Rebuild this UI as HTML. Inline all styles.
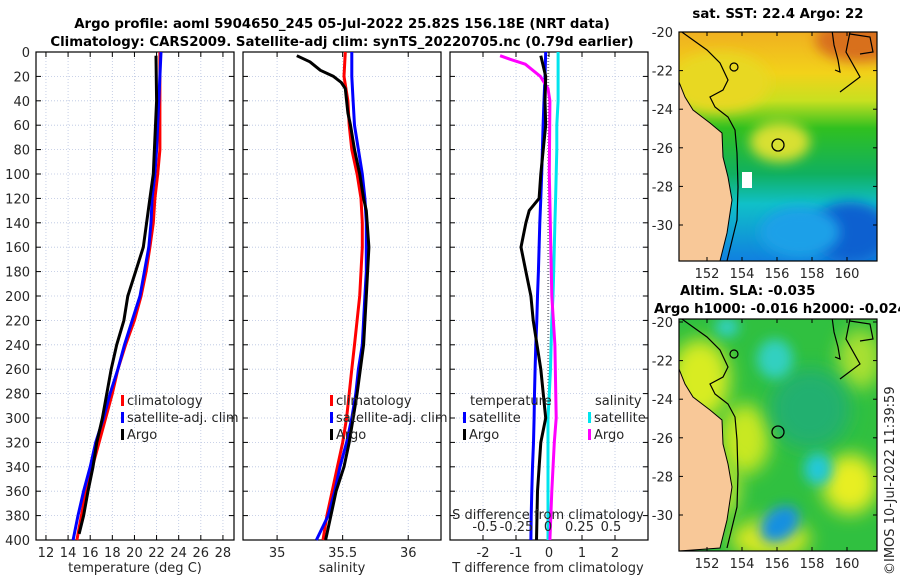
<!DOCTYPE html>
<html><head><meta charset="utf-8"><style>
body{margin:0;background:#fff;}
svg{display:block;font-family:"DejaVu Sans","Liberation Sans",sans-serif;}
.tk{font-size:13px;fill:#262626;}
.tt{font-size:13.3px;font-weight:bold;fill:#000;}
</style></head><body>
<svg id="chart" width="900" height="580" viewBox="0 0 900 580" xmlns="http://www.w3.org/2000/svg">
<defs>
<filter id="bl" x="-100%" y="-100%" width="300%" height="300%"><feGaussianBlur stdDeviation="6"/></filter>
<filter id="bl2" x="-100%" y="-100%" width="300%" height="300%"><feGaussianBlur stdDeviation="9"/></filter>
<clipPath id="m1c"><rect x="679" y="32" width="198" height="229"/></clipPath>
<clipPath id="m2c"><rect x="679" y="319" width="198" height="232"/></clipPath>
<linearGradient id="sstg" x1="0" y1="0" x2="0" y2="1">
<stop offset="0" stop-color="#f0b020"/><stop offset="0.18" stop-color="#f2d21a"/><stop offset="0.3" stop-color="#c8e020"/><stop offset="0.42" stop-color="#30c020"/><stop offset="0.62" stop-color="#10b060"/><stop offset="0.75" stop-color="#10c0c8"/><stop offset="1" stop-color="#1080e0"/></linearGradient>
</defs>
<text class="tt" x="342" y="28" text-anchor="middle">Argo profile: aoml 5904650_245 05-Jul-2022 25.82S 156.18E (NRT data)</text>
<text class="tt" x="342" y="46" text-anchor="middle">Climatology: CARS2009. Satellite-adj clim: synTS_20220705.nc (0.79d earlier)</text>
<g id="panels"></g>
<g id="maps"></g>
<text class="tk" transform="translate(894,575) rotate(-90)">©IMOS 10-Jul-2022 11:39:59</text>
</svg>
<script>
const depthTicks=[0,20,40,60,80,100,120,140,160,180,200,220,240,260,280,300,320,340,360,380,400];
const tempTicks=[12,14,16,18,20,22,24,26,28];
const salTicks=[35,35.5,36];
const salTickLabels=['35','35.5','36'];
const tdTicks=[-2,-1,0,1,2];
const sdTicks=[-0.5,-0.25,0,0.25,0.5];
const sdTickLabels=['-0.5','-0.25','0','0.25','0.5'];
// temperature profiles
const tArgoDepth=[3,40,100,120,140,160,180,200,220,240,260,280,300,320,340,360,380,395];
const tArgo=[21.95,22.0,21.7,21.4,21.1,20.8,20.1,19.4,19.05,18.4,17.9,17.5,17.1,16.6,16.25,15.8,15.4,15.0];
const climDepth=[0,20,40,60,80,100,120,140,160,180,200,220,240,260,280,300,320,340,360,380,400];
const tClim=[22.3,22.3,22.3,22.3,22.3,22.1,21.85,21.7,21.4,21.05,20.6,20.0,19.2,18.5,18.0,17.4,16.8,16.2,15.6,15.2,14.8];
const tSat=[22.4,22.3,22.2,22.1,22.0,21.85,21.6,21.5,21.3,20.9,20.5,19.8,19.1,18.5,17.8,17.2,16.5,16.0,15.4,14.9,14.45];
// salinity profiles
const sArgoDepth=[3,8,15,20,25,30,40,50,60,80,100,120,130,160,200,240,280,320,340,360,380,400];
const sArgo=[35.15,35.25,35.33,35.43,35.49,35.52,35.53,35.54,35.56,35.59,35.63,35.66,35.68,35.70,35.68,35.66,35.61,35.55,35.51,35.45,35.41,35.37];
const sClim=[35.52,35.51,35.54,35.55,35.57,35.61,35.64,35.65,35.65,35.64,35.63,35.61,35.59,35.57,35.55,35.53,35.50,35.46,35.42,35.38,35.35];
const sSat=[35.57,35.57,35.58,35.59,35.62,35.65,35.67,35.68,35.68,35.68,35.67,35.66,35.65,35.62,35.60,35.57,35.53,35.48,35.44,35.39,35.30];
// differences
const tdSat=[-0.1,-0.12,-0.15,-0.18,-0.2,-0.22,-0.25,-0.28,-0.3,-0.32,-0.35,-0.37,-0.4,-0.42,-0.44,-0.45,-0.47,-0.5,-0.52,-0.54,-0.55];
const tdArgoDepth=[3,20,40,60,100,120,130,140,160,180,200,220,260,300,320,360,400];
const tdArgo=[-0.25,-0.1,-0.12,-0.1,-0.25,-0.3,-0.6,-0.7,-0.85,-0.7,-0.55,-0.48,-0.25,-0.1,-0.25,-0.35,-0.38];
const sdSat=[0.08,0.08,0.08,0.07,0.07,0.065,0.06,0.055,0.05,0.045,0.04,0.03,0.025,0.02,0.01,0.0,0.0,0.0,0.0,0.0,0.0];
const sdArgoDepth=[3,6,10,20,30,40,100,200,240,300,320,360,400];
const sdArgo=[-0.38,-0.30,-0.18,-0.06,0.0,0.015,0.01,0.03,0.055,0.065,0.05,0.03,0.015];

const NS='http://www.w3.org/2000/svg';
function mk(tag,attrs,parent){const e=document.createElementNS(NS,tag);for(const k in attrs)e.setAttribute(k,attrs[k]);parent.appendChild(e);return e;}
const Y0=52,Y1=540;
const yS=d=>Y0+(d/400)*(Y1-Y0);
const P=document.getElementById('panels');
function panel(name,x0,x1,dmin,dmax,ticks,labels,showY){
  const g=mk('g',{},P);
  
  
  const xs=v=>x0+(v-dmin)/(dmax-dmin)*(x1-x0);
  depthTicks.forEach(d=>{
    const l=mk('line',{x1:x0,x2:x1,y1:yS(d),y2:yS(d),stroke:'#b8c4e0','stroke-width':0.8,'stroke-dasharray':'1,2'},g);
    
    
    mk('line',{x1:x0,x2:x0+5,y1:yS(d),y2:yS(d),stroke:'#000'},g);
    mk('line',{x1:x1-5,x2:x1,y1:yS(d),y2:yS(d),stroke:'#000'},g);
    if(showY){const t=mk('text',{x:x0-6,y:yS(d)+5,'text-anchor':'end',class:'tk'},g);t.textContent=d;
      
      }
  });
  ticks.forEach((v,i)=>{
    const l=mk('line',{x1:xs(v),x2:xs(v),y1:Y0,y2:Y1,stroke:'#b8c4e0','stroke-width':0.8,'stroke-dasharray':'1,2'},g);
    
    
    mk('line',{x1:xs(v),x2:xs(v),y1:Y1-5,y2:Y1,stroke:'#000'},g);
    mk('line',{x1:xs(v),x2:xs(v),y1:Y0,y2:Y0+5,stroke:'#000'},g);
    const t=mk('text',{x:xs(v),y:Y1+17,'text-anchor':'middle',class:'tk'},g);t.textContent=labels[i];
    
    
  });
  const r=mk('rect',{x:x0,y:Y0,width:x1-x0,height:Y1-Y0,fill:'none',stroke:'#000','stroke-width':1.2},g);
  
  
  return {g,xs};
}
function line(g,xs,depths,vals,color,w,name){
  const pts=vals.map((v,i)=>xs(v).toFixed(1)+','+yS(depths[i]).toFixed(1)).join(' ');
  const p=mk('polyline',{points:pts,fill:'none',stroke:color,'stroke-width':w,'stroke-linejoin':'round'},g);
  
  
}
function txt(g,x,y,s,name,anchor){const t=mk('text',{x:x,y:y,class:'tk','text-anchor':anchor||'start'},g);t.textContent=s;
  
  return t;}
function legItem(g,x,y,color,label,name){
  mk('rect',{x:x,y:y-10,width:3,height:11,fill:color},g);
  const t=txt(g,x+6,y,label,name);return t;
}
// panel 1
const p1=panel('temperature-panel',36,234,11.1,29.0,tempTicks,tempTicks.map(String),true);
line(p1.g,p1.xs,climDepth,tClim,'#ff0000',3,'temp-climatology-line');
line(p1.g,p1.xs,climDepth,tSat,'#0000ff',3,'temp-satellite-line');
line(p1.g,p1.xs,tArgoDepth,tArgo,'#000',3,'temp-argo-line');
txt(p1.g,135,572,'temperature (deg C)','temp-x-axis-title','middle');
legItem(p1.g,121,405,'#ff0000','climatology','legend-climatology');
legItem(p1.g,121,422,'#0000ff','satellite-adj. clim','legend-satellite');
legItem(p1.g,121,439,'#000','Argo','legend-argo');
// panel 2
const p2=panel('salinity-panel',243,441,34.74,36.25,salTicks,salTickLabels,false);
line(p2.g,p2.xs,climDepth,sClim,'#ff0000',3,'sal-climatology-line');
line(p2.g,p2.xs,climDepth,sSat,'#0000ff',3,'sal-satellite-line');
line(p2.g,p2.xs,sArgoDepth,sArgo,'#000',3,'sal-argo-line');
txt(p2.g,342,572,'salinity','sal-x-axis-title','middle');
legItem(p2.g,330,405,'#ff0000','climatology','legend-climatology-2');
legItem(p2.g,330,422,'#0000ff','satellite-adj. clim','legend-satellite-2');
legItem(p2.g,330,439,'#000','Argo','legend-argo-2');
// panel 3
const p3=panel('difference-panel',450,648,-3,3,tdTicks,tdTicks.map(String),false);
const sx=v=>548+v*126;
const z=mk('line',{x1:548,x2:548,y1:Y0,y2:Y1,stroke:'#444','stroke-dasharray':'1,2'},p3.g);


line(p3.g,p3.xs,climDepth,tdSat,'#0000ff',3,'tdiff-satellite-line');
line(p3.g,sx,climDepth,sdSat,'#00e5ee',3,'sdiff-satellite-line');
line(p3.g,sx,sdArgoDepth,sdArgo,'#ff00ff',3,'sdiff-argo-line');
line(p3.g,p3.xs,tdArgoDepth,tdArgo,'#000',3,'tdiff-argo-line');
sdTicks.forEach((v,i)=>{txt(p3.g,sx(v),531,sdTickLabels[i],'sdiff-tick-label','middle');});
txt(p3.g,548,519,'S difference from climatology','sdiff-axis-title','middle');
txt(p3.g,548,572,'T difference from climatology','tdiff-axis-title','middle');
txt(p3.g,470,405,'temperature','legend-temperature-header');
txt(p3.g,595,405,'salinity','legend-salinity-header');
legItem(p3.g,463,422,'#0000ff','satellite','legend-t-satellite');
legItem(p3.g,463,439,'#000','Argo','legend-t-argo');
legItem(p3.g,588,422,'#00e5ee','satellite','legend-s-satellite');
legItem(p3.g,588,439,'#ff00ff','Argo','legend-s-argo');

// maps
const M=document.getElementById('maps');
const coastPts=[[679,82],[685,97],[693,110],[710,123],[722,133],[723,157],[728,177],[732,200],[727,233],[720,261]];
const isoPts=[[679,30],[707,50],[720,63],[728,80],[723,90],[710,97],[715,107],[728,117],[735,130],[737,153],[738,187],[737,220],[727,261]];
const reefPts=[[832,30],[834,45],[838,60],[840,72],[835,70]];
function map(name,y0,h,clip,isSST){
  const g=mk('g',{},M);
  
  
  const dy=y0-32;
  const c=mk('g',{'clip-path':'url(#'+clip+')'},g);
  if(isSST){
    mk('rect',{x:679,y:y0,width:198,height:h,fill:'url(#sstg)'},c);
    mk('ellipse',{cx:860,cy:y0+8,rx:45,ry:22,fill:'#d8701a',filter:'url(#bl)'},c);
    mk('ellipse',{cx:720,cy:y0+50,rx:50,ry:30,fill:'#e8d820',filter:'url(#bl)'},c);
    mk('ellipse',{cx:780,cy:y0+110,rx:30,ry:20,fill:'#d8e030',filter:'url(#bl)'},c);
    mk('ellipse',{cx:850,cy:y0+200,rx:40,ry:30,fill:'#1060d0',filter:'url(#bl)'},c);
    mk('ellipse',{cx:800,cy:y0+200,rx:40,ry:25,fill:'#1aa0e8',filter:'url(#bl)'},c);
    mk('rect',{x:742,y:y0+140,width:10,height:16,fill:'#fff'},c);
  } else {
    mk('rect',{x:679,y:y0,width:198,height:h,fill:'#30c040'},c);
    [[700,y0+60,30,40,'#d8ec20'],[745,y0+120,25,35,'#c8e820'],[850,y0+165,28,30,'#e8ee20'],[770,y0+220,40,20,'#d8e820'],[860,y0+40,22,30,'#a8e030'],[720,y0+170,20,30,'#b8e430'],[810,y0+90,40,40,'#20b070']].forEach(a=>mk('ellipse',{cx:a[0],cy:a[1],rx:a[2],ry:a[3],fill:a[4],filter:'url(#bl2)'},c));
    mk('ellipse',{cx:775,cy:y0+40,rx:18,ry:20,fill:'#30d0c0',filter:'url(#bl)'},c);
    mk('ellipse',{cx:727,cy:y0+8,rx:12,ry:10,fill:'#30d0c0',filter:'url(#bl)'},c);
    mk('ellipse',{cx:818,cy:y0+150,rx:14,ry:16,fill:'#20c8d8',filter:'url(#bl)'},c);
    mk('ellipse',{cx:780,cy:y0+205,rx:22,ry:16,fill:'#1890e0',filter:'url(#bl)',transform:'rotate(-40 780 '+(y0+205)+')'},c);
  }
  mk('path',{d:'M679,'+(82+dy)+' L'+coastPts.map(p=>p[0]+','+(p[1]+dy)).join(' L')+' L679,'+(y0+h)+' Z',fill:'#f8c898',stroke:'#000','stroke-width':1},c);
  mk('polyline',{points:isoPts.map(p=>p[0]+','+(p[1]+dy)).join(' '),fill:'none',stroke:'#000','stroke-width':1.2},c);
  mk('polyline',{points:reefPts.map(p=>p[0]+','+(p[1]+dy)).join(' '),fill:'none',stroke:'#000','stroke-width':1.2},c);
  mk('path',{d:'M850,'+(y0)+' L846,'+(y0+20)+' L860,'+(y0+45)+' L840,'+(y0+60),fill:'none',stroke:'#000','stroke-width':1.2},c);
  mk('path',{d:'M850,'+(y0+2)+' L870,'+(y0+5)+' L873,'+(y0+20)+' L860,'+(y0+22),fill:'none',stroke:'#000','stroke-width':1.2},c);
  mk('circle',{cx:734,cy:y0+35,r:4,fill:'none',stroke:'#000','stroke-width':1.2},c);
  const ac=mk('circle',{cx:778,cy:y0+113,r:6,fill:'none',stroke:'#000','stroke-width':1.3},c);
  
  
  const b=mk('rect',{x:679,y:y0,width:198,height:h,fill:'none',stroke:'#000','stroke-width':1.2},g);
  
  
  const lonTicks=[152,154,156,158,160];
  lonTicks.forEach(v=>{const x=679+(v-150.4)*17.5;
    mk('line',{x1:x,x2:x,y1:y0+h-4,y2:y0+h,stroke:'#000'},g);
    mk('line',{x1:x,x2:x,y1:y0,y2:y0+4,stroke:'#000'},g);
    txt(g,x,y0+h+17,String(v),'lon-tick-label','middle');});
  const latTicks=[-20,-22,-24,-26,-28,-30];
  latTicks.forEach(v=>{const y=y0+(-20-v)*19.3+(isSST?0:3);
    mk('line',{x1:679,x2:683,y1:y,y2:y,stroke:'#000'},g);
    mk('line',{x1:873,x2:877,y1:y,y2:y,stroke:'#000'},g);
    txt(g,673,y+5,String(v),'lat-tick-label','end');});
}
map('sst-map',32,229,'m1c',true);
map('sla-map',319,232,'m2c',false);
const t1=txt(M,778,18,'sat. SST: 22.4 Argo: 22','sst-map-title','middle');t1.setAttribute('class','tt');
const t2=txt(M,680,295,'Altim. SLA: -0.035','sla-map-title');t2.setAttribute('class','tt');
const t3=txt(M,654,313,'Argo h1000: -0.016 h2000: -0.024','sla-map-subtitle');t3.setAttribute('class','tt');
</script>
</body></html>
